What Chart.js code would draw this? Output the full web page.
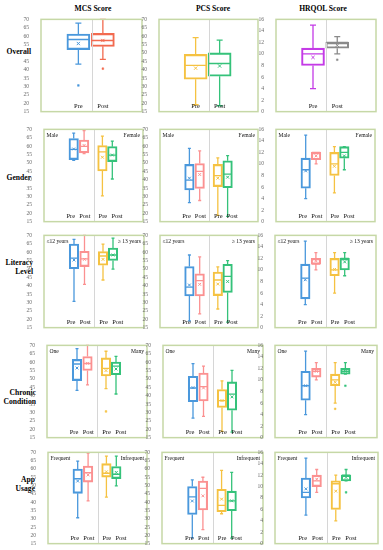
<!DOCTYPE html>
<html>
<head>
<meta charset="utf-8">
<script src="https://cdn.jsdelivr.net/npm/chart.js@4.4.1/dist/chart.umd.min.js"></script>
<style>
  html, body { margin: 0; padding: 0; background: #fff; }
  body { width: 383px; height: 550px; position: relative; overflow: hidden; font-family: "Liberation Serif", serif; }
  .title { position: absolute; font-weight: bold; font-size: 7.6px; color: #000; white-space: nowrap; transform: translateX(-50%); }
  .rowlab { position: absolute; font-weight: bold; font-size: 7.6px; line-height: 8.6px; color: #000; text-align: right; white-space: pre; transform: translate(-100%, -50%); }
  canvas { position: absolute; }
</style>
</head>
<body>
<script>
// ---------- DATA ----------
const columnTitles = ['MCS Score', 'PCS Score', 'HRQOL Score'];
const rowTitles = ['Overall', 'Gender', 'Literacy\nLevel', 'Chronic\nCondition', 'App\nUsage'];
const groupNames = [null, ['Male', 'Female'], ['\u226412 years', '\u2265 13 years'], ['One', 'Many'], ['Frequent', 'Infrequent']];
const timeLabels = ['Pre', 'Post'];

// each box: [min, q1, median, q3, max, mean]
const mcsOverall  = [[43.3, 52.0, 58.0, 61.2, 67.8, 55.6], [46.1, 53.9, 57.4, 61.6, 70.0, 57.4]];
const mcsGender   = [[51.5, 52.0, 58.1, 64.5, 67.7, 58.3], [55.6, 56.0, 59.8, 63.6, 69.3, 60.4], [30.4, 45.2, 56.6, 60.3, 66.0, 53.4], [40.4, 50.8, 54.6, 59.7, 63.0, 54.7]];
const mcsLiteracy = [[30.6, 50.1, 56.4, 64.8, 67.6, 55.3], [40.8, 51.4, 56.0, 60.5, 70.0, 55.7], [43.4, 52.2, 57.7, 60.3, 64.8, 55.7], [49.9, 55.0, 58.3, 62.4, 68.3, 58.3]];
const mcsChronic  = [[43.2, 49.0, 58.9, 61.6, 68.0, 56.5], [46.5, 55.0, 59.2, 63.3, 70.0, 59.3], [44.2, 51.8, 56.3, 62.5, 66.5, 55.0], [41.0, 52.5, 57.6, 60.0, 63.4, 55.9]];
const mcsApp      = [[30.6, 45.3, 54.1, 60.0, 64.7, 52.7], [40.8, 52.1, 57.7, 61.7, 69.6, 56.4], [43.0, 55.1, 57.4, 63.2, 67.7, 58.3], [49.8, 54.2, 56.8, 61.5, 67.7, 57.9]];

const pcsOverall  = [[19.1, 34.3, 42.6, 49.1, 59.1, 40.9], [18.5, 36.1, 43.7, 50.0, 57.6, 42.2]];
const pcsGender   = [[26.3, 33.9, 39.8, 49.1, 58.7, 40.9], [27.6, 34.8, 45.0, 49.6, 57.2, 43.1], [18.7, 35.9, 42.4, 49.1, 53.0, 40.9], [18.1, 35.2, 43.3, 51.3, 54.3, 41.5]];
const pcsLiteracy = [[19.0, 33.9, 39.1, 51.4, 58.3, 40.4], [23.2, 33.9, 43.0, 47.1, 57.2, 40.8], [26.1, 34.1, 43.4, 48.1, 51.2, 41.0], [18.3, 36.0, 45.6, 52.7, 55.0, 42.5]];
const pcsChronic  = [[26.6, 36.4, 44.6, 51.6, 59.1, 44.8], [27.7, 36.9, 45.4, 53.5, 57.6, 44.6], [18.7, 33.0, 37.1, 43.7, 48.8, 37.1], [18.3, 31.3, 40.9, 48.2, 55.1, 39.3]];
const pcsApp      = [[18.5, 32.6, 43.2, 49.4, 53.4, 40.7], [23.4, 35.3, 48.3, 52.7, 55.0, 43.8], [33.0, 34.2, 38.0, 47.7, 59.2, 41.8], [18.3, 34.9, 40.8, 46.6, 57.9, 40.8]];

const hrqolOverall  = [[4, 8, 10, 11, 15, 9.4], [10, 11, 12, 12, 13, 11.5]];
const hrqolGender   = [[4, 5.8, 9, 11, 15, 8.8], [10, 10.75, 12, 12, 12, 11.4], [5, 8, 10, 12, 13, 9.6], [9, 11, 12, 13, 13, 11.4]];
const hrqolLiteracy = [[4, 5, 8.6, 11, 15, 8.3], [10, 11, 11, 12, 13, 11.6], [6, 9, 10, 12, 13, 10.1], [9, 10, 12, 12, 13, 11.4]];
const hrqolChronic  = [[4, 6.5, 9, 11.5, 15, 9.0], [10, 10.5, 11.5, 12, 13, 11.5], [6, 9, 10, 11, 13, 9.6], [11, 11, 11.5, 12, 13, 11.5]];
const hrqolApp      = [[5, 8, 9, 11.5, 15, 9.6], [9, 10, 11, 12, 13, 11.3], [4, 6, 10.5, 11, 12, 9.2], [11, 11, 12, 12, 13, 11.6]];

// outliers per box
const mcsOverallOut = [[30.6], [40.6]];
const mcsChronicOut = [[], [], [30.6], []];
const hrqolOverallOut = [[], [9]];
const hrqolChronicOut = [[], [], [5], [9]];
const hrqolAppOut = [[], [], [], [9]];

// axis ranges / ticks
const scoreAxis = { min: 15, max: 70, step: 5 };
const hrqolAxis = { min: 0, max: 16, step: 2 };

// ---------- LAYOUT / STYLE ----------
const frames = [
  [[41, 16, 144, 115], [159, 16, 260, 115], [276, 16, 378, 115]],
  [[44, 126, 145, 225], [160, 126, 260, 225], [276, 126, 377, 225]],
  [[44, 232, 146, 331], [160, 232, 260, 331], [275, 232, 378, 331]],
  [[47, 342, 149, 441], [163, 342, 265, 441], [275, 342, 379, 441]],
  [[48, 449, 149, 547], [162, 449, 265, 547], [275, 449, 380, 547]]
];
const titlePos = [[93, 4], [213, 4], [323, 4]];
const rowLabelPos = [[31, 52], [31, 178], [33, 268], [36, 398], [35, 485]];
const overallBoxPos = [1.48, 2.45];
const groupBoxPos = [1.2, 1.62, 2.36, 2.76];
const overallLabelPos = [1.48, 2.45];
const groupLabelPos = [1.08, 1.65, 2.38, 2.95];
const overallColors = [['#4a98dc', '#f26a4f'], ['#f5c242', '#35c27a'], ['#c43be6', '#8a8a8a']];
const groupColors = ['#4a98dc', '#fb9191', '#f5c242', '#35c27a'];

const statsGrid = [
  [mcsOverall, pcsOverall, hrqolOverall],
  [mcsGender, pcsGender, hrqolGender],
  [mcsLiteracy, pcsLiteracy, hrqolLiteracy],
  [mcsChronic, pcsChronic, hrqolChronic],
  [mcsApp, pcsApp, hrqolApp]
];
const outGrid = [
  [mcsOverallOut, null, hrqolOverallOut],
  [null, null, null],
  [null, null, null],
  [mcsChronicOut, null, hrqolChronicOut],
  [null, null, hrqolAppOut]
];

const AXW = 18, PADT = 4, PADB = 4, PADR = 3;

const boxPlugin = {
  id: 'boxExtras',
  afterDatasetsDraw(chart) {
    const cfg = chart.options.plugins.boxExtras;
    const { ctx, chartArea: a } = chart;
    const xs = chart.scales.x, ys = chart.scales.y;
    ctx.save();
    ctx.strokeStyle = '#d6d6d6';
    ctx.lineWidth = 1;
    const dx = Math.round(xs.getPixelForValue(2)) + 0.5;
    ctx.beginPath(); ctx.moveTo(dx, a.top); ctx.lineTo(dx, a.bottom); ctx.stroke();
    cfg.stats.forEach((s, i) => {
      const px = xs.getPixelForValue(cfg.pos[i]);
      ctx.strokeStyle = cfg.colors[i];
      ctx.lineWidth = cfg.lw;
      ctx.beginPath();
      ctx.moveTo(px, ys.getPixelForValue(s[0])); ctx.lineTo(px, ys.getPixelForValue(s[1]));
      ctx.moveTo(px, ys.getPixelForValue(s[3])); ctx.lineTo(px, ys.getPixelForValue(s[4]));
      ctx.moveTo(px - cfg.cap, ys.getPixelForValue(s[0])); ctx.lineTo(px + cfg.cap, ys.getPixelForValue(s[0]));
      ctx.moveTo(px - cfg.cap, ys.getPixelForValue(s[4])); ctx.lineTo(px + cfg.cap, ys.getPixelForValue(s[4]));
      ctx.moveTo(px - cfg.bw / 2 + 0.5, ys.getPixelForValue(s[2])); ctx.lineTo(px + cfg.bw / 2 - 0.5, ys.getPixelForValue(s[2]));
      ctx.stroke();
    });
    ctx.strokeStyle = '#c6d8a6';
    ctx.lineWidth = 1.5;
    ctx.strokeRect(a.left, a.top, a.right - a.left, a.bottom - a.top);
    ctx.fillStyle = '#111';
    ctx.font = '6.5px "Liberation Serif"';
    ctx.textAlign = 'center';
    ctx.textBaseline = 'middle';
    cfg.labelPos.forEach((p, i) => {
      ctx.fillText(timeLabels[i % 2], xs.getPixelForValue(p), a.bottom - 5);
    });
    if (cfg.groups) {
      ctx.font = '5.6px "Liberation Serif"';
      ctx.textAlign = 'left';
      ctx.fillText(cfg.groups[0], a.left + 2.5, a.top + 6);
      ctx.textAlign = 'right';
      ctx.fillText(cfg.groups[1], a.right - 3, a.top + 6);
    }
    ctx.restore();
  }
};

columnTitles.forEach((t, c) => {
  const d = document.createElement('div');
  d.className = 'title';
  d.textContent = t;
  d.style.left = titlePos[c][0] + 'px';
  d.style.top = titlePos[c][1] + 'px';
  document.body.appendChild(d);
});
rowTitles.forEach((t, r) => {
  const d = document.createElement('div');
  d.className = 'rowlab';
  d.textContent = t;
  d.style.left = rowLabelPos[r][0] + 'px';
  d.style.top = rowLabelPos[r][1] + 'px';
  document.body.appendChild(d);
});

for (let r = 0; r < 5; r++) {
  for (let c = 0; c < 3; c++) {
    const [l, t, rr, b] = frames[r][c];
    const cv = document.createElement('canvas');
    const w = rr - l + AXW + PADR, h = b - t + PADT + PADB;
    cv.width = w; cv.height = h;
    cv.style.left = (l - AXW) + 'px';
    cv.style.top = (t - PADT) + 'px';
    cv.style.width = w + 'px'; cv.style.height = h + 'px';
    document.body.appendChild(cv);

    const stats = statsGrid[r][c];
    const outs = outGrid[r][c];
    const overall = r === 0;
    const pos = overall ? overallBoxPos : groupBoxPos;
    const colors = overall ? overallColors[c] : groupColors;
    const axis = c === 2 ? hrqolAxis : scoreAxis;
    const bw = overall ? 23 : 9.5;

    const outPts = [], outCols = [];
    if (outs) outs.forEach((arr, i) => arr.forEach(v => { outPts.push({ x: pos[i], y: v }); outCols.push(colors[i]); }));

    new Chart(cv, {
      type: 'bar',
      data: {
        datasets: [
          {
            type: 'bar',
            data: stats.map((s, i) => ({ x: pos[i], y: [s[1], s[3]] })),
            backgroundColor: 'rgba(255,255,255,0)',
            borderColor: colors,
            borderWidth: 1.4,
            borderSkipped: false,
            barThickness: bw,
            order: 2
          },
          {
            type: 'scatter',
            data: stats.map((s, i) => ({ x: pos[i], y: s[5] })),
            pointStyle: 'crossRot',
            pointRadius: overall ? 2.3 : 2,
            borderColor: colors,
            backgroundColor: colors,
            borderWidth: 1,
            order: 1
          },
          {
            type: 'scatter',
            data: outPts,
            pointStyle: 'rect',
            pointRadius: 1.2,
            borderColor: outCols,
            backgroundColor: outCols,
            borderWidth: 0.5,
            order: 1
          }
        ]
      },
      options: {
        responsive: false,
        animation: false,
        devicePixelRatio: 1,
        layout: { padding: { top: PADT, bottom: PADB, right: PADR, left: 0 } },
        plugins: {
          legend: { display: false },
          tooltip: { enabled: false },
          boxExtras: {
            stats: stats, pos: pos, colors: colors, bw: bw,
            cap: overall ? 3 : 1.5, lw: 1.3,
            labelPos: overall ? overallLabelPos : groupLabelPos,
            groups: groupNames[r]
          }
        },
        scales: {
          x: { type: 'linear', min: 0, max: 4, display: false, offset: false },
          y: {
            type: 'linear', min: axis.min, max: axis.max,
            grid: { display: false },
            border: { display: false },
            ticks: { stepSize: axis.step, autoSkip: false, font: { family: 'Liberation Serif', size: 5.6 }, color: '#6a6a6a', padding: 4 },
            afterFit: (s) => { s.width = AXW; }
          }
        }
      },
      plugins: [boxPlugin]
    });
  }
}
</script>
</body>
</html>
